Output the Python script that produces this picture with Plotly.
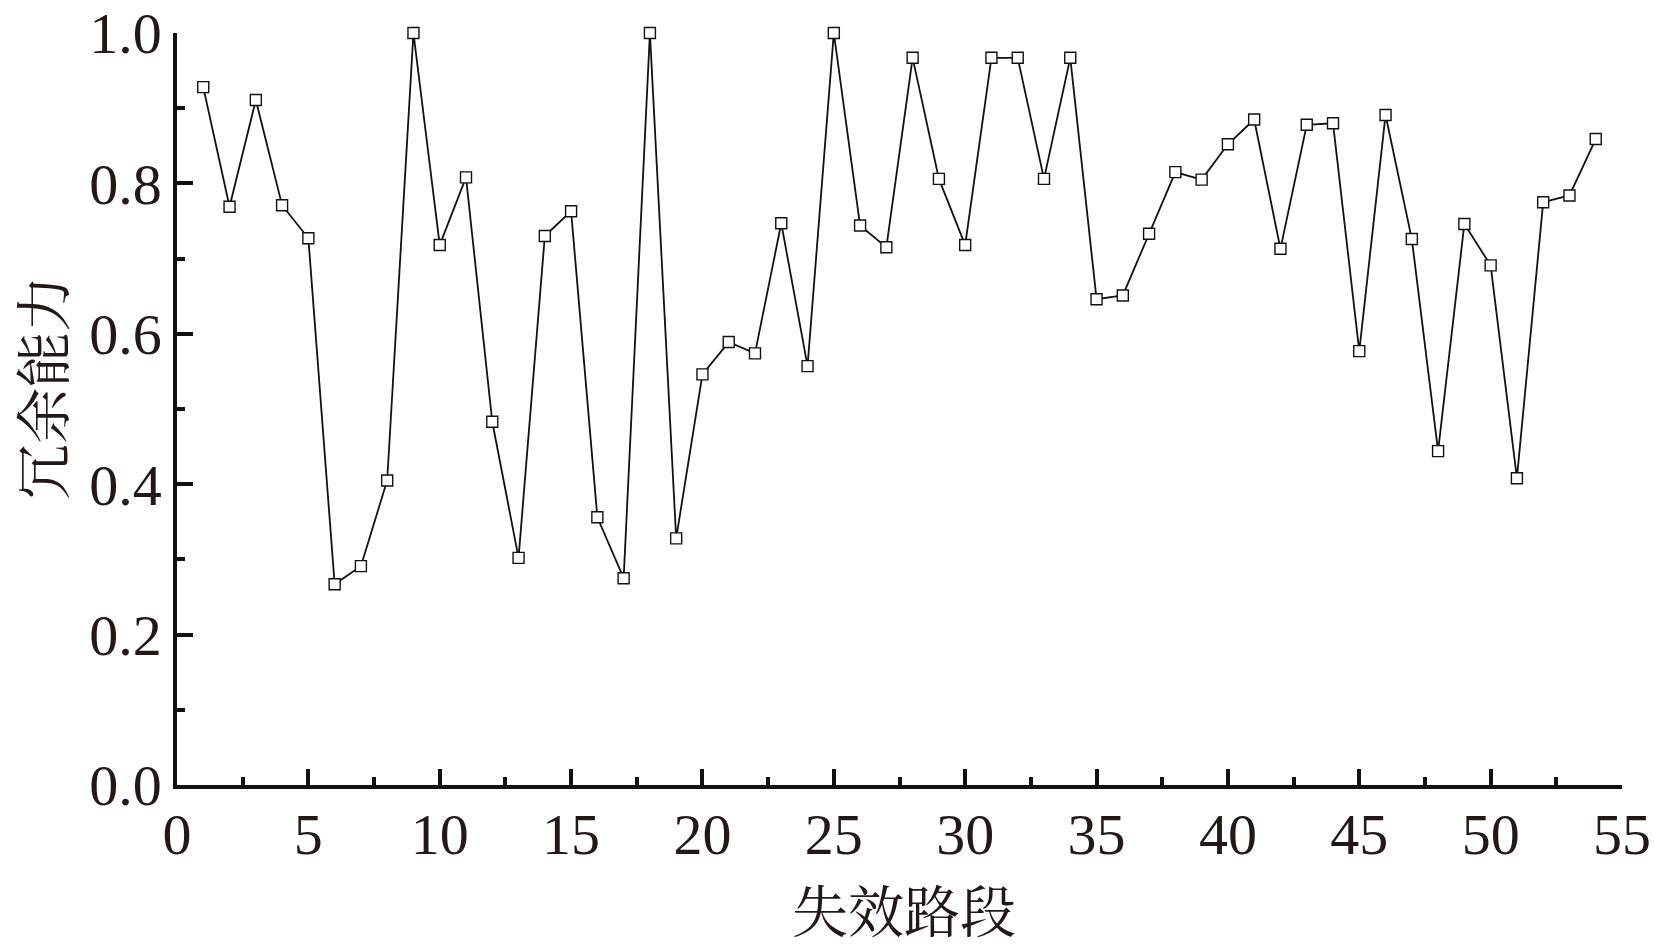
import plotly.graph_objects as go

segments = list(range(1, 55))
capacity = [0.928, 0.769, 0.911, 0.771, 0.727, 0.267, 0.291, 0.405, 1.0, 0.718,
            0.808, 0.483, 0.302, 0.730, 0.763, 0.356, 0.275, 1.0, 0.328, 0.546,
            0.589, 0.574, 0.747, 0.557, 1.0, 0.744, 0.715, 0.967, 0.806, 0.718,
            0.967, 0.967, 0.806, 0.967, 0.646, 0.651, 0.733, 0.815, 0.805, 0.852,
            0.885, 0.713, 0.878, 0.880, 0.577, 0.891, 0.726, 0.444, 0.746, 0.691,
            0.408, 0.775, 0.784, 0.859]

x_ticks = list(range(0, 56, 5))
y_ticks = [0.0, 0.2, 0.4, 0.6, 0.8, 1.0]
x_title = "失效路段"
y_title = "冗余能力"

TEXT = "#231815"
SERIF = "Liberation Serif, Times New Roman, serif"
CJK = "Noto Serif CJK SC, Noto Sans CJK SC, sans-serif"

fig = go.Figure()
fig.add_trace(go.Scatter(
    x=segments, y=capacity, mode="lines+markers",
    line=dict(color="#111111", width=1.8),
    marker=dict(symbol="square", size=11, color="white",
                line=dict(color="#111111", width=1.4)),
    cliponaxis=False, showlegend=False,
))

axis_common = dict(
    showgrid=False, zeroline=False, showline=True, linecolor="#111111",
    linewidth=3.5, ticks="inside", ticklen=16, tickwidth=3.5, tickcolor="#111111",
    tickfont=dict(family=SERIF, size=58, color=TEXT), automargin=False,
)

fig.update_xaxes(
    range=[0, 55], tickvals=x_ticks, ticklabelstandoff=-4,
    minor=dict(dtick=2.5, tick0=0, ticks="inside", ticklen=8, tickwidth=3.5,
               tickcolor="#111111", showgrid=False),
    **axis_common,
)
fig.update_yaxes(
    range=[0, 1.0], tickvals=y_ticks, tickformat=".1f", ticklabelstandoff=0,
    minor=dict(dtick=0.1, tick0=0, ticks="inside", ticklen=8, tickwidth=3.5,
               tickcolor="#111111", showgrid=False),
    **axis_common,
)

fig.add_annotation(text=x_title, xref="paper", yref="paper", x=0.503, y=-0.1636,
                   xanchor="center", yanchor="middle", showarrow=False,
                   font=dict(family=CJK, size=56, color=TEXT))
fig.add_annotation(text=y_title, xref="paper", yref="paper", x=-0.0945, y=0.529,
                   xanchor="center", yanchor="middle", showarrow=False, textangle=-90,
                   font=dict(family=CJK, size=56, color=TEXT))

fig.update_layout(
    width=1655, height=947,
    margin=dict(l=177, r=33, t=33, b=162),
    plot_bgcolor="white", paper_bgcolor="white",
)

fig.write_html(
    "out.html",
    config={"displayModeBar": False},
    post_script="document.body.style.margin='0';document.body.style.overflow='hidden';",
)
